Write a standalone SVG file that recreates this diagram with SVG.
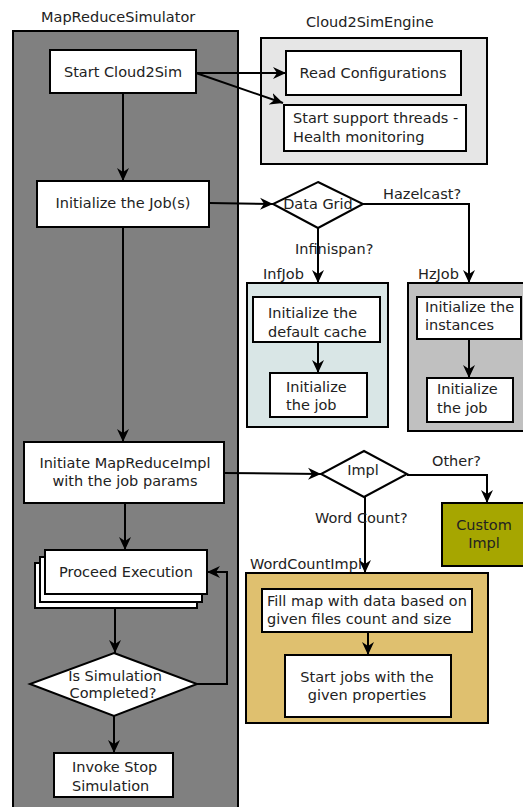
<svg xmlns="http://www.w3.org/2000/svg" width="523" height="807" viewBox="0 0 523 807">
<defs>
<style>
text{font-family:"DejaVu Sans","Liberation Sans",sans-serif;font-size:14.5px;fill:#222}
.c{text-anchor:middle}
.box{fill:#fff;stroke:#000;stroke-width:2}
.lane{stroke:#000;stroke-width:2}
.con{fill:none;stroke:#000;stroke-width:2;marker-end:url(#ah)}
.lin{fill:none;stroke:#000;stroke-width:2}
</style>
<marker id="ah" markerUnits="userSpaceOnUse" markerWidth="14" markerHeight="14" viewBox="0 0 14 14" refX="13" refY="7" orient="auto">
<path d="M0,1 L13,7 L0,13 L4,7 z" fill="#000"/>
</marker>
</defs>
<rect width="523" height="807" fill="#fff"/>

<g id="lane-mapreduce">
<rect class="lane" x="13" y="31" width="225" height="790" fill="#808080"/>
<text x="41" y="22">MapReduceSimulator</text>
</g>
<g id="lane-cloud2simengine">
<rect class="lane" x="261" y="38" width="226" height="126" fill="#e6e6e6"/>
<text x="306" y="27">Cloud2SimEngine</text>
</g>
<g id="lane-infjob">
<rect class="lane" x="247" y="283" width="141" height="144" fill="#d9e6e6"/>
<text x="263" y="279">InfJob</text>
</g>
<g id="lane-hzjob">
<rect class="lane" x="408" y="283" width="130" height="148" fill="#c0c0c0"/>
<text x="418" y="279">HzJob</text>
</g>
<g id="lane-wordcountimpl">
<rect class="lane" x="246" y="573" width="242" height="150" fill="#dfc06f"/>
<text x="250" y="569">WordCountImpl</text>
</g>

<g id="connectors">
<path class="con" d="M196,73 L286,73"/>
<path class="con" d="M196,73 L283,103"/>
<path class="con" d="M123,93 L123,181"/>
<path class="con" d="M209,203 L273,204"/>
<path class="con" d="M363,204 L469,204 L469,283"/>
<path class="con" d="M318,228 L318,283"/>
<path class="con" d="M318,342 L318,373"/>
<path class="con" d="M469,339 L469,378"/>
<path class="con" d="M123,227 L123,442"/>
<path class="con" d="M224,473 L321,474"/>
<path class="con" d="M407,475 L487,475 L487,503"/>
<path class="con" d="M365,497 L365,573"/>
<path class="con" d="M368,632 L368,655"/>
<path class="con" d="M125,503 L125,550"/>
<path class="con" d="M115,608 L115,653"/>
<path class="con" d="M197,684 L227,684 L227,572 L207,572"/>
<path class="con" d="M114,716 L114,753"/>
<text x="383" y="199">Hazelcast?</text>
<text x="295" y="254">Infinispan?</text>
<text x="432" y="466">Other?</text>
<text x="315" y="523">Word Count?</text>
</g>

<g id="start-cloud2sim">
<rect class="box" x="50" y="50" width="146" height="43"/>
<text class="c" x="123" y="77">Start Cloud2Sim</text>
</g>
<g id="read-configurations">
<rect class="box" x="286" y="51" width="175" height="44"/>
<text class="c" x="373" y="78">Read Configurations</text>
</g>
<g id="start-support-threads">
<rect class="box" x="284" y="105" width="182" height="46"/>
<text x="293" y="123">Start support threads -</text>
<text x="293" y="142">Health monitoring</text>
</g>
<g id="initialize-jobs">
<rect class="box" x="37" y="181" width="172" height="46"/>
<text class="c" x="123" y="208">Initialize the Job(s)</text>
</g>
<g id="data-grid">
<polygon class="box" points="318,182 363,204 318,228 273,204"/>
<text class="c" x="318" y="209">Data Grid</text>
</g>
<g id="inf-init-cache">
<rect class="box" x="253" y="297" width="127" height="45"/>
<text x="268" y="318">Initialize the</text>
<text x="268" y="337">default cache</text>
</g>
<g id="inf-init-job">
<rect class="box" x="270" y="373" width="97" height="44"/>
<text x="286" y="392">Initialize</text>
<text x="286" y="410">the job</text>
</g>
<g id="hz-init-instances">
<rect class="box" x="417" y="297" width="104" height="42"/>
<text x="425" y="312">Initialize the</text>
<text x="425" y="330">instances</text>
</g>
<g id="hz-init-job">
<rect class="box" x="427" y="378" width="86" height="44"/>
<text x="437" y="394">Initialize</text>
<text x="437" y="413">the job</text>
</g>
<g id="initiate-mapreduceimpl">
<rect class="box" x="24" y="442" width="200" height="61"/>
<text class="c" x="125" y="468">Initiate MapReduceImpl</text>
<text class="c" x="125" y="486">with the job params</text>
</g>
<g id="impl">
<polygon class="box" points="364,451 407,474 364,497 321,474"/>
<text class="c" x="363" y="475">Impl</text>
</g>
<g id="custom-impl">
<rect class="box" x="442" y="503" width="90" height="63" fill="#a6a600" style="fill:#a6a600"/>
<text class="c" x="484" y="530">Custom</text>
<text class="c" x="484" y="548">Impl</text>
</g>
<g id="fill-map">
<rect class="box" x="262" y="589" width="210" height="43"/>
<text x="267" y="606">Fill map with data based on</text>
<text x="267" y="624">given files count and size</text>
</g>
<g id="start-jobs">
<rect class="box" x="285" y="655" width="166" height="62"/>
<text class="c" x="367" y="682">Start jobs with the</text>
<text class="c" x="367" y="700">given properties</text>
</g>
<g id="proceed-execution">
<rect class="box" x="35" y="563" width="162" height="45"/>
<rect class="box" x="40" y="557" width="162" height="45"/>
<rect class="box" x="45" y="550" width="162" height="44"/>
<text class="c" x="126" y="577">Proceed Execution</text>
</g>
<g id="is-simulation-completed">
<polygon class="box" points="114,653 197,684 114,716 30,684"/>
<text class="c" x="115" y="681">Is Simulation</text>
<text class="c" x="113" y="698">Completed?</text>
</g>
<g id="invoke-stop">
<rect class="box" x="54" y="753" width="119" height="44"/>
<text x="72" y="772">Invoke Stop</text>
<text x="72" y="791">Simulation</text>
</g>
</svg>
